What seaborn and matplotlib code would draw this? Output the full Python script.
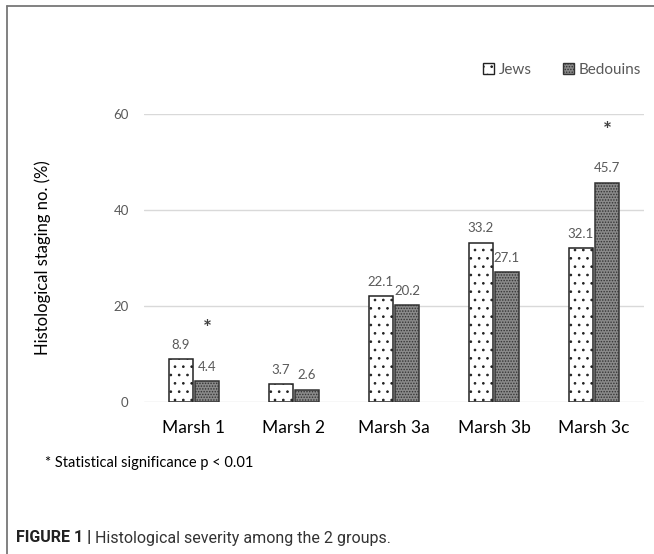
import pandas as pd
import numpy as np
import seaborn as sns
import matplotlib.pyplot as plt
from matplotlib.lines import Line2D
from matplotlib.patches import Patch

# data
stages = ['Marsh 1', 'Marsh 2', 'Marsh 3a', 'Marsh 3b', 'Marsh 3c']
jews = [8.9, 3.7, 22.1, 33.2, 32.1]
bedouins = [4.4, 2.6, 20.2, 27.1, 45.7]
significant = ['Marsh 1', 'Marsh 3c']

df = pd.DataFrame({'Stage': stages * 2,
                   'Group': ['Jews'] * 5 + ['Bedouins'] * 5,
                   'Value': jews + bedouins})

sns.set_theme(style='white')
plt.rcParams['font.family'] = ['Lato', 'DejaVu Sans']
plt.rcParams['hatch.linewidth'] = 0.7

fig = plt.figure(figsize=(6.54, 5.54), dpi=100)
ax = fig.add_axes([144 / 654, 1 - 402 / 554, 500 / 654, 288 / 554])

sns.barplot(data=df, x='Stage', y='Value', hue='Group', order=stages,
            hue_order=['Jews', 'Bedouins'], width=0.52, gap=0.1,
            ax=ax, legend=False, zorder=3)

styles = {'Jews': dict(facecolor='white', hatch='..', edgecolor='#222222'),
          'Bedouins': dict(facecolor='#8a8a8a', hatch='......', edgecolor='#333333')}
for cont, grp in zip(ax.containers, ['Jews', 'Bedouins']):
    for bar in cont:
        bar.set_facecolor(styles[grp]['facecolor'])
        bar.set_edgecolor(styles[grp]['edgecolor'])
        bar.set_hatch(styles[grp]['hatch'])
        bar.set_linewidth(1.1)
    ax.bar_label(cont, fmt='%.1f', padding=6, fontsize=9.5, color='#595959')

# asterisks over the Bedouin bars
bed_bars = ax.containers[1]
for i, st in enumerate(stages):
    if st in significant:
        b = bed_bars[i]
        ax.annotate('*', (b.get_x() + b.get_width() / 2, b.get_height()),
                    xytext=(0, 37), textcoords='offset points', ha='center',
                    va='center', fontsize=15, fontweight='bold', color='#404040',
                    annotation_clip=False)

ax.set_ylim(0, 60)
ax.set_yticks([0, 20, 40, 60])
ax.set_xlim(-0.5, 4.5)
ax.grid(axis='y', color='#d9d9d9', linewidth=1, zorder=0)
sns.despine(ax=ax, left=True, bottom=True, top=True, right=True)
ax.tick_params(axis='y', length=0, labelsize=9.5, labelcolor='#595959', pad=11)
ax.tick_params(axis='x', length=0, labelsize=12.5, labelcolor='black', pad=13)
ax.set_xlabel('')
ax.set_ylabel('Histological staging no. (%)', fontsize=12, color='black')
ax.yaxis.set_label_coords(-0.185, 0.5)

handles = [Patch(facecolor=styles[g]['facecolor'], edgecolor=styles[g]['edgecolor'],
                 hatch=styles[g]['hatch'], label=g) for g in ['Jews', 'Bedouins']]
fig.legend(handles=handles, loc='center', bbox_to_anchor=(562 / 654, 1 - 70 / 554),
           ncol=2, frameon=False, fontsize=11, handlelength=0.75, handleheight=0.75,
           handletextpad=0.3, columnspacing=2.0, labelcolor='#595959')

fig.text(45 / 654, 1 - 463 / 554, '* Statistical significance p < 0.01',
         fontsize=10.5, va='center', ha='left', color='black')

cap_font = ['Roboto', 'DejaVu Sans']
t1 = fig.text(16 / 654, 1 - 538 / 554, 'FIGURE 1 |', fontsize=11.5, fontweight='bold',
              va='center', ha='left', family=cap_font, color='#222222')
r = fig.canvas.get_renderer()
x_end = t1.get_window_extent(renderer=r).x1
fig.text((x_end + 4) / 654, 1 - 538 / 554, 'Histological severity among the 2 groups.',
         fontsize=11.5, va='center', ha='left', family=cap_font, color='#333333')

# frame lines at the top and left of the figure
fig.add_artist(Line2D([7 / 654, 1], [1 - 6 / 554, 1 - 6 / 554], color='#777777', linewidth=1.3))
fig.add_artist(Line2D([7 / 654, 7 / 654], [0, 1 - 6 / 554], color='#777777', linewidth=1.3))

fig.savefig('out.png', dpi=100)
